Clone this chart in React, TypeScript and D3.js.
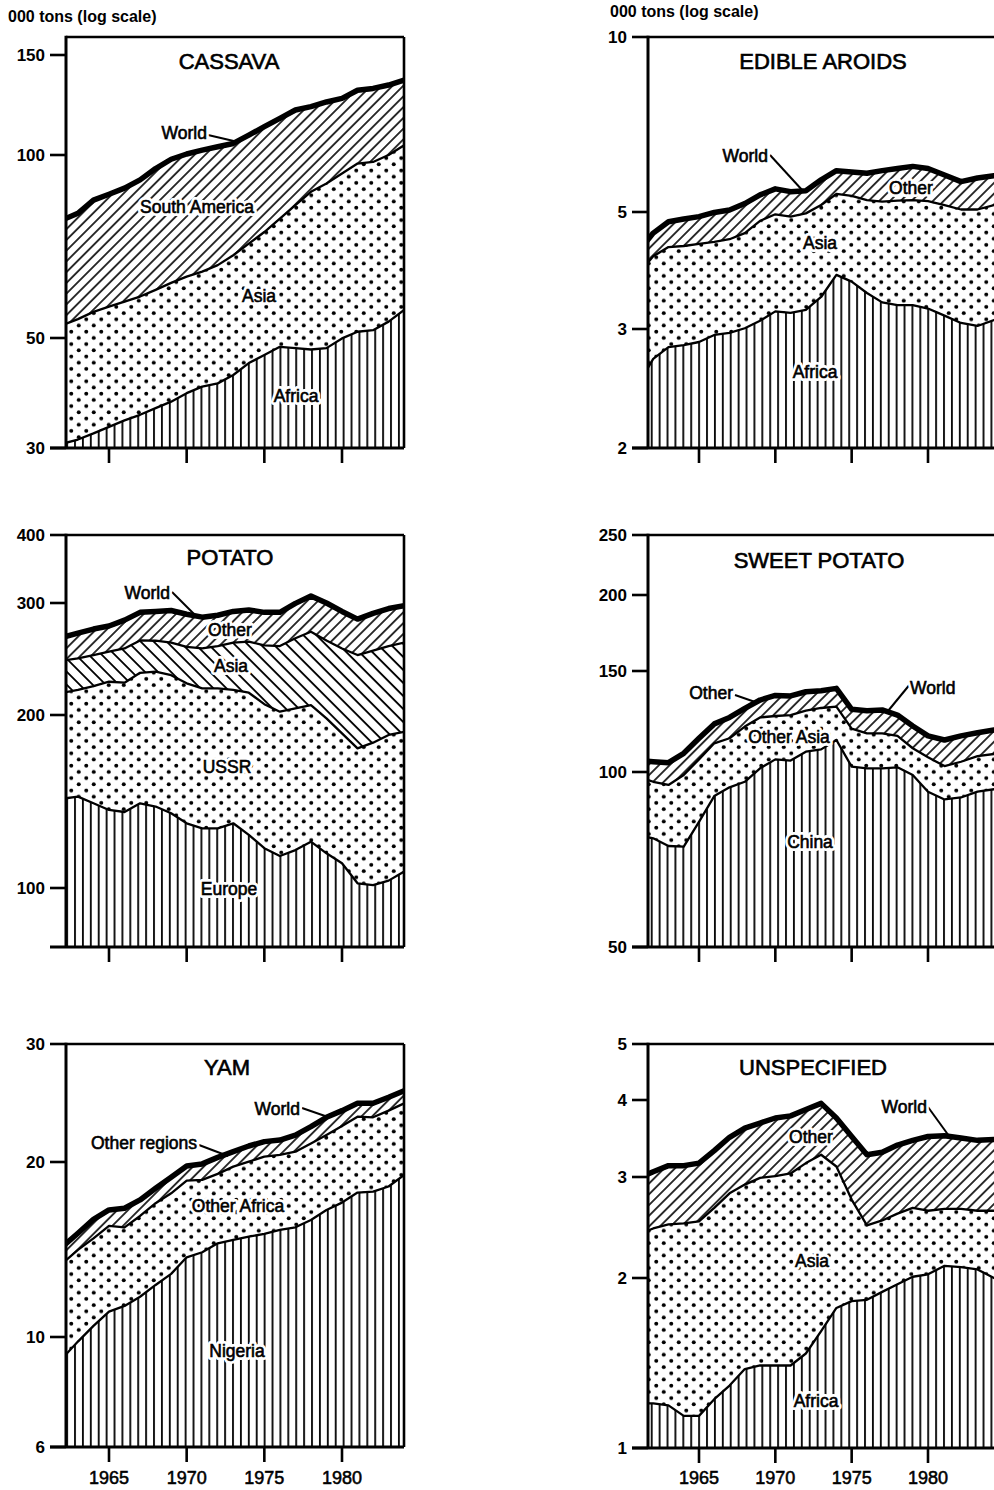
import React from 'react';
import * as d3 from 'd3';

// ---------- DATA (000 tons) ----------
const years = [1961, 1962, 1963, 1964, 1965, 1966, 1967, 1968, 1969, 1970, 1971, 1972,
  1973, 1974, 1975, 1976, 1977, 1978, 1979, 1980, 1981, 1982, 1983, 1984];

const xTickYears = [1965, 1970, 1975, 1980];

// CASSAVA
const cassavaAfrica = [30.0, 30.6, 31.2, 32.1, 33.1, 34.1, 35.0, 36.1, 37.2, 38.7, 39.9, 40.5, 42.1, 44.5, 46.2, 48.0, 47.7, 47.4, 47.7, 49.9, 51.2, 51.5, 53.2, 55.6];
const cassavaAsia = [21.5, 21.9, 22.5, 23.1, 23.2, 23.3, 23.5, 23.9, 24.4, 24.4, 24.4, 25.4, 26.3, 27.0, 28.5, 30.6, 35.0, 39.6, 42.1, 43.3, 45.6, 45.9, 46.8, 48.4];
const cassavaSouthAmerica = [24.5, 25.7, 26.5, 29.1, 29.9, 30.8, 32.5, 35.0, 36.8, 37.3, 37.7, 37.5, 36.4, 36.9, 37.5, 37.4, 37.3, 34.7, 34.2, 32.6, 33.2, 33.6, 32.8, 31.5];
const cassavaTicks = [30, 50, 100, 150];

// EDIBLE AROIDS
const aroidsAfrica = [2.48, 2.71, 2.82, 2.84, 2.87, 2.94, 2.96, 3.01, 3.11, 3.24, 3.22, 3.26, 3.45, 3.80, 3.69, 3.51, 3.37, 3.33, 3.33, 3.28, 3.18, 3.08, 3.04, 3.12];
const aroidsAsia = [1.33, 1.41, 1.47, 1.47, 1.48, 1.45, 1.48, 1.55, 1.70, 1.71, 1.68, 1.71, 1.69, 1.57, 1.64, 1.73, 1.84, 1.90, 1.91, 1.94, 1.96, 1.97, 2.01, 2.02];
const aroidsOther = [0.39, 0.44, 0.50, 0.54, 0.55, 0.60, 0.60, 0.61, 0.54, 0.53, 0.52, 0.47, 0.54, 0.52, 0.53, 0.59, 0.68, 0.71, 0.75, 0.72, 0.65, 0.59, 0.67, 0.63];
const aroidsTicks = [2, 3, 5, 10];

// POTATO
const potatoEurope = [142.2, 143.0, 144.2, 140.4, 136.7, 135.6, 140.4, 138.6, 134.9, 129.6, 127.0, 127.0, 129.6, 123.7, 117.3, 113.7, 116.4, 120.4, 114.9, 110.4, 101.9, 101.2, 103.0, 106.8];
const potatoUSSR = [72.8, 73.8, 74.8, 81.6, 88.9, 89.2, 92.6, 95.4, 96.1, 94.7, 93.3, 93.3, 89.4, 93.1, 90.7, 88.7, 88.5, 86.9, 82.4, 75.4, 73.1, 77.8, 81.6, 80.2];
const potatoAsia = [26.0, 26.7, 26.5, 26.5, 25.9, 29.7, 29.0, 27.7, 29.0, 31.7, 34.2, 36.4, 41.0, 44.0, 49.3, 54.3, 59.1, 63.1, 64.7, 68.7, 73.5, 73.4, 72.1, 73.0];
const potatoOther = [21.0, 21.5, 23.5, 24.5, 24.5, 27.5, 28.0, 29.3, 32.0, 32.0, 30.5, 30.3, 31.0, 31.7, 32.7, 33.3, 35.6, 38.6, 38.0, 36.5, 34.5, 36.6, 37.3, 37.0];
const potatoTicks = [100, 200, 300, 400];

// SWEET POTATO
const sweetChina = [77.9, 76.9, 74.6, 74.4, 82.1, 90.9, 94.1, 96.2, 101.5, 105.2, 104.7, 108.5, 109.5, 113.7, 102.2, 101.5, 101.5, 101.9, 98.8, 92.5, 89.7, 90.4, 92.5, 93.4];
const sweetOtherAsia = [20.3, 19.3, 20.4, 24.4, 23.1, 21.3, 20.4, 23.8, 23.0, 20.0, 21.0, 19.4, 19.8, 16.3, 16.8, 15.3, 15.3, 13.7, 11.2, 13.6, 12.7, 13.8, 14.1, 14.1];
const sweetOther = [6.5, 8.0, 8.8, 9.0, 9.3, 9.1, 10.0, 9.1, 9.0, 10.8, 10.0, 10.1, 9.3, 9.9, 9.6, 11.1, 11.5, 10.1, 10.3, 9.5, 11.3, 11.4, 10.5, 10.9];
const sweetTicks = [50, 100, 150, 200, 250];

// YAM
const yamNigeria = [8.45, 9.06, 9.79, 10.45, 11.06, 11.31, 11.73, 12.29, 12.84, 13.71, 13.99, 14.49, 14.69, 14.88, 15.04, 15.28, 15.44, 15.90, 16.54, 17.03, 17.72, 17.79, 18.15, 19.00];
const yamOtherAfrica = [4.59, 4.33, 4.33, 4.33, 4.47, 4.13, 4.42, 4.70, 4.83, 4.87, 4.64, 4.59, 4.95, 5.14, 5.33, 5.21, 5.28, 5.42, 5.41, 5.60, 5.65, 5.53, 5.71, 5.47];
const yamOtherRegions = [0.89, 0.91, 0.96, 1.16, 1.01, 1.21, 1.06, 1.03, 1.16, 1.11, 1.22, 1.24, 1.08, 1.11, 1.08, 1.08, 1.22, 1.26, 1.37, 1.23, 1.10, 1.15, 1.12, 1.08];
const yamTicks = [6, 10, 20, 30];

// UNSPECIFIED
const unspecAfrica = [1.20, 1.20, 1.19, 1.14, 1.14, 1.22, 1.29, 1.38, 1.40, 1.40, 1.40, 1.47, 1.61, 1.77, 1.82, 1.83, 1.89, 1.95, 2.01, 2.03, 2.10, 2.09, 2.07, 2.00];
const unspecAsia = [1.18, 1.24, 1.29, 1.35, 1.37, 1.43, 1.52, 1.53, 1.59, 1.61, 1.64, 1.69, 1.65, 1.35, 0.92, 0.64, 0.63, 0.64, 0.64, 0.59, 0.54, 0.55, 0.55, 0.62];
const unspecOther = [0.60, 0.62, 0.65, 0.64, 0.65, 0.66, 0.67, 0.69, 0.68, 0.73, 0.73, 0.70, 0.69, 0.62, 0.75, 0.79, 0.77, 0.79, 0.79, 0.87, 0.86, 0.83, 0.82, 0.83];
const unspecTicks = [1, 2, 3, 4, 5];

// ---------- LAYOUT ----------
type Label = { text: string; x: number; y: number; anchor: string; leader?: number[] };
type Series = { key: string; values: number[]; fill: string };
type PanelCfg = {
  title: string; titleX: number; titleY: number;
  left: number; right: number; top: number; bottom: number;
  xPix: number[]; yTicks: number[]; yPix: number[];
  series: Series[]; labels: Label[]; showYears: boolean; header?: { x: number; y: number };
};

const leftX = { left: 66, right: 404, xPix: [109, 342] };
const rightX = { left: 648, right: 1000, xPix: [699, 928, 994] };
const xDomLeft = [1965, 1980];
const xDomRight = [1965, 1980, 1984];

const panels: PanelCfg[] = [
  {
    title: 'CASSAVA', titleX: 229, titleY: 69, ...leftX, top: 37, bottom: 448,
    yTicks: cassavaTicks, yPix: [448, 338, 155, 55], showYears: false, header: { x: 8, y: 22 },
    series: [
      { key: 'Africa', values: cassavaAfrica, fill: 'url(#vlines)' },
      { key: 'Asia', values: cassavaAsia, fill: 'url(#dots)' },
      { key: 'South America', values: cassavaSouthAmerica, fill: 'url(#fwd)' },
    ],
    labels: [
      { text: 'World', x: 207, y: 139, anchor: 'end', leader: [208, 135, 238, 142] },
      { text: 'South America', x: 197, y: 213, anchor: 'middle' },
      { text: 'Asia', x: 259, y: 302, anchor: 'middle' },
      { text: 'Africa', x: 296, y: 402, anchor: 'middle' },
    ],
  },
  {
    title: 'EDIBLE AROIDS', titleX: 823, titleY: 69, ...rightX, top: 37, bottom: 448,
    yTicks: aroidsTicks, yPix: [448, 329, 212, 37], showYears: false, header: { x: 610, y: 17 },
    series: [
      { key: 'Africa', values: aroidsAfrica, fill: 'url(#vlines)' },
      { key: 'Asia', values: aroidsAsia, fill: 'url(#dots)' },
      { key: 'Other', values: aroidsOther, fill: 'url(#fwd)' },
    ],
    labels: [
      { text: 'World', x: 768, y: 162, anchor: 'end', leader: [770, 155, 803, 191] },
      { text: 'Other', x: 911, y: 194, anchor: 'middle' },
      { text: 'Asia', x: 820, y: 249, anchor: 'middle' },
      { text: 'Africa', x: 815, y: 378, anchor: 'middle' },
    ],
  },
  {
    title: 'POTATO', titleX: 230, titleY: 565, ...leftX, top: 535, bottom: 947,
    yTicks: potatoTicks, yPix: [888, 715, 603, 535], showYears: false,
    series: [
      { key: 'Europe', values: potatoEurope, fill: 'url(#vlines)' },
      { key: 'USSR', values: potatoUSSR, fill: 'url(#dots)' },
      { key: 'Asia', values: potatoAsia, fill: 'url(#back)' },
      { key: 'Other', values: potatoOther, fill: 'url(#fwd)' },
    ],
    labels: [
      { text: 'World', x: 170, y: 599, anchor: 'end', leader: [172, 592, 194, 614] },
      { text: 'Other', x: 230, y: 636, anchor: 'middle' },
      { text: 'Asia', x: 231, y: 672, anchor: 'middle' },
      { text: 'USSR', x: 227, y: 773, anchor: 'middle' },
      { text: 'Europe', x: 229, y: 895, anchor: 'middle' },
    ],
  },
  {
    title: 'SWEET POTATO', titleX: 819, titleY: 568, ...rightX, top: 535, bottom: 947,
    yTicks: sweetTicks, yPix: [947, 772, 671, 595, 535], showYears: false,
    series: [
      { key: 'China', values: sweetChina, fill: 'url(#vlines)' },
      { key: 'Other Asia', values: sweetOtherAsia, fill: 'url(#dots)' },
      { key: 'Other', values: sweetOther, fill: 'url(#fwd)' },
    ],
    labels: [
      { text: 'Other', x: 733, y: 699, anchor: 'end', leader: [735, 695, 758, 703] },
      { text: 'World', x: 910, y: 694, anchor: 'start', leader: [911, 683, 888, 711] },
      { text: 'Other Asia', x: 789, y: 743, anchor: 'middle' },
      { text: 'China', x: 810, y: 848, anchor: 'middle' },
    ],
  },
  {
    title: 'YAM', titleX: 227, titleY: 1075, ...leftX, top: 1044, bottom: 1447,
    yTicks: yamTicks, yPix: [1447, 1337, 1162, 1044], showYears: true,
    series: [
      { key: 'Nigeria', values: yamNigeria, fill: 'url(#vlines)' },
      { key: 'Other Africa', values: yamOtherAfrica, fill: 'url(#dots)' },
      { key: 'Other regions', values: yamOtherRegions, fill: 'url(#fwd)' },
    ],
    labels: [
      { text: 'World', x: 300, y: 1115, anchor: 'end', leader: [302, 1108, 328, 1117] },
      { text: 'Other regions', x: 197, y: 1149, anchor: 'end', leader: [199, 1145, 228, 1156] },
      { text: 'Other Africa', x: 238, y: 1212, anchor: 'middle' },
      { text: 'Nigeria', x: 237, y: 1357, anchor: 'middle' },
    ],
  },
  {
    title: 'UNSPECIFIED', titleX: 813, titleY: 1075, ...rightX, top: 1044, bottom: 1448,
    yTicks: unspecTicks, yPix: [1448, 1278, 1177, 1100, 1044], showYears: true,
    series: [
      { key: 'Africa', values: unspecAfrica, fill: 'url(#vlines)' },
      { key: 'Asia', values: unspecAsia, fill: 'url(#dots)' },
      { key: 'Other', values: unspecOther, fill: 'url(#fwd)' },
    ],
    labels: [
      { text: 'World', x: 927, y: 1113, anchor: 'end', leader: [928, 1107, 949, 1136] },
      { text: 'Other', x: 811, y: 1143, anchor: 'middle' },
      { text: 'Asia', x: 812, y: 1267, anchor: 'middle' },
      { text: 'Africa', x: 816, y: 1407, anchor: 'middle' },
    ],
  },
];

const FONT = '"Liberation Sans", Arial, Helvetica, sans-serif';

function Panel({ cfg, idx }: { cfg: PanelCfg; idx: number }) {
  const isRight = cfg.left > 500;
  const x = d3.scaleLinear().domain(isRight ? xDomRight : xDomLeft).range(cfg.xPix);
  const y = d3.scaleLog().domain(cfg.yTicks).range(cfg.yPix);
  const rows = years.map((yr, i) => {
    const o: any = { year: yr };
    cfg.series.forEach((s) => { o[s.key] = s.values[i]; });
    return o;
  });
  const stacked = d3.stack<any>().keys(cfg.series.map((s) => s.key))(rows);
  const area = d3.area<any>()
    .x((d) => x(d.data.year))
    .y0((d) => (d[0] <= 0 ? cfg.bottom + 2 : y(d[0])))
    .y1((d) => y(d[1]));
  const line = d3.line<any>().x((d) => x(d.data.year)).y((d) => y(d[1]));
  const clipId = `clip${idx}`;
  const tickLen = 16;
  return (
    <g>
      <defs>
        <clipPath id={clipId}>
          <rect x={cfg.left} y={cfg.top} width={cfg.right - cfg.left} height={cfg.bottom - cfg.top} />
        </clipPath>
      </defs>
      <g clipPath={`url(#${clipId})`}>
        {stacked.map((s, i) => (
          <path key={'a' + i} d={area(s) || ''} fill={cfg.series[i].fill} stroke="none" />
        ))}
        {stacked.map((s, i) => {
          const top = i === stacked.length - 1;
          return (
            <path key={'l' + i} d={line(s) || ''} fill="none" stroke="#000"
              strokeWidth={top ? 5.5 : 2.3} strokeLinejoin="round" strokeLinecap="round" />
          );
        })}
      </g>
      {/* frame */}
      <line x1={cfg.left} x2={cfg.right} y1={cfg.top} y2={cfg.top} stroke="#000" strokeWidth={2.6} />
      <line x1={cfg.right} x2={cfg.right} y1={cfg.top} y2={cfg.bottom} stroke="#000" strokeWidth={2.6} />
      <line x1={cfg.left} x2={cfg.left} y1={cfg.top - 1.3} y2={cfg.bottom} stroke="#000" strokeWidth={3} />
      <line x1={cfg.left - tickLen} x2={cfg.right} y1={cfg.bottom} y2={cfg.bottom} stroke="#000" strokeWidth={3} />
      {/* y ticks */}
      {cfg.yTicks.map((t) => (
        <g key={'yt' + t}>
          <line x1={cfg.left - tickLen} x2={cfg.left} y1={y(t)} y2={y(t)} stroke="#000" strokeWidth={2.6} />
          <text x={cfg.left - 21} y={y(t)} dy="0.36em" textAnchor="end" fontFamily={FONT}
            fontWeight="bold" fontSize={17} fill="#000">{t}</text>
        </g>
      ))}
      {/* x ticks */}
      {xTickYears.map((yr) => (
        <g key={'xt' + yr}>
          <line x1={x(yr)} x2={x(yr)} y1={cfg.bottom} y2={cfg.bottom + 15} stroke="#000" strokeWidth={2.6} />
          {cfg.showYears && (
            <text x={x(yr)} y={1484} textAnchor="middle" fontFamily={FONT} fontSize={18}
              fill="#000" stroke="#000" strokeWidth={0.55}>{yr}</text>
          )}
        </g>
      ))}
      {/* title */}
      <text x={cfg.titleX} y={cfg.titleY} textAnchor="middle" fontFamily={FONT} fontSize={22}
        fill="#000" stroke="#000" strokeWidth={0.65}>{cfg.title}</text>
      {cfg.header && (
        <text x={cfg.header.x} y={cfg.header.y} fontFamily={FONT} fontWeight="bold" fontSize={16}
          fill="#000">000 tons (log scale)</text>
      )}
      {/* labels */}
      {cfg.labels.map((l, i) => (
        <g key={'lb' + i}>
          {l.leader && (
            <line x1={l.leader[0]} y1={l.leader[1]} x2={l.leader[2]} y2={l.leader[3]}
              stroke="#000" strokeWidth={2} />
          )}
          <text x={l.x} y={l.y} textAnchor={l.anchor} fontFamily={FONT} fontSize={17.5}
            fill="#fff" stroke="#fff" strokeWidth={6} strokeLinejoin="round">{l.text}</text>
          <text x={l.x} y={l.y} textAnchor={l.anchor} fontFamily={FONT} fontSize={17.5}
            fill="#000" stroke="#000" strokeWidth={0.6}>{l.text}</text>
        </g>
      ))}
    </g>
  );
}

export default function App() {
  return (
    <svg width={994} height={1490} viewBox="0 0 994 1490"
      style={{ position: 'absolute', left: 0, top: 0, background: '#fff' }}>
      <defs>
        <pattern id="vlines" patternUnits="userSpaceOnUse" width={7.9} height={10}>
          <line x1={3.9} x2={3.9} y1={0} y2={10} stroke="#000" strokeWidth={1.8} />
        </pattern>
        <pattern id="dots" patternUnits="userSpaceOnUse" width={15} height={12.4}>
          <circle cx={3.75} cy={3.1} r={2} fill="#000" />
          <circle cx={11.25} cy={9.3} r={2} fill="#000" />
        </pattern>
        <pattern id="fwd" patternUnits="userSpaceOnUse" width={7.6} height={10} patternTransform="rotate(45)">
          <line x1={3.8} x2={3.8} y1={0} y2={10} stroke="#000" strokeWidth={1.6} />
        </pattern>
        <pattern id="back" patternUnits="userSpaceOnUse" width={9.2} height={10} patternTransform="rotate(-45)">
          <line x1={4.6} x2={4.6} y1={0} y2={10} stroke="#000" strokeWidth={1.9} />
        </pattern>
      </defs>
      <rect x={0} y={0} width={994} height={1490} fill="#fff" />
      {panels.map((p, i) => <Panel key={i} cfg={p} idx={i} />)}
    </svg>
  );
}
